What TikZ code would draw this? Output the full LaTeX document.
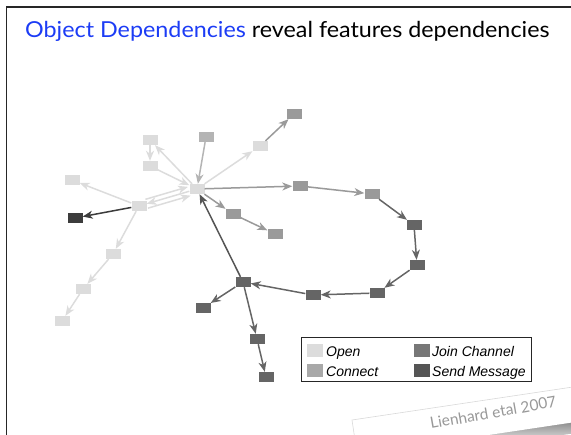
\documentclass[tikz,border=0pt]{standalone}
\usepackage{fontspec}
\setmainfont{Lato}
\newfontfamily\legendfont{Liberation Sans}
\usetikzlibrary{arrows.meta,fadings}

\definecolor{titleblue}{RGB}{28,60,245}
\definecolor{openc}{HTML}{DCDCDC}
\definecolor{connc}{HTML}{9A9A9A}
\definecolor{connlight}{HTML}{B4B4B4}
\definecolor{joinc}{HTML}{656565}
\definecolor{sendc}{HTML}{3C3C3C}
\definecolor{legjoin}{HTML}{777777}
\definecolor{legsend}{HTML}{555555}
\definecolor{legconn}{HTML}{A8A8A8}

\tikzfading[name=shadowfade, top color=transparent!20, bottom color=transparent!100]

\tikzset{
  obj/.style={minimum width=15pt, minimum height=10pt, inner sep=0pt, draw=none, fill=#1},
  dep/.style={draw=#1, line width=1.5pt, -{Stealth[length=10pt,width=8pt,inset=3pt]}},
  swatch/.style={minimum width=16pt, minimum height=13pt, inner sep=0pt, fill=#1},
  legtext/.style={anchor=base west, inner sep=0pt, font=\legendfont\itshape\fontsize{14}{16}\selectfont}
}

\begin{document}
\begin{tikzpicture}[x=1pt,y=-1pt]
\useasboundingbox (0,0) rectangle (571,435);
\clip (0,0) rectangle (571,435);

% slide frame
\draw[line width=1.6pt, black!85] (6.5,436) -- (6.5,7.2) -- (572,7.2);

% heading
\node[anchor=base west, inner sep=0pt, xscale=1.06, font=\fontsize{22}{24}\selectfont] (heading) at (25,38)
  {\textcolor{titleblue}{Object Dependencies} reveal features dependencies};

% objects
\node[obj=openc]     (A) at (150,140) {};
\node[obj=openc]     (B) at (150,166) {};
\node[obj=connlight] (C) at (206,137) {};
\node[obj=openc]     (H) at (197,189) {};
\node[obj=openc]     (D) at (72,180) {};
\node[obj=openc]     (E) at (139,206) {};
\node[obj=sendc]     (F) at (75,218) {};
\node[obj=connc]     (G) at (233,214) {};
\node[obj=connc]     (I) at (294,114) {};
\node[obj=openc]     (J) at (260,146) {};
\node[obj=connc]     (K) at (300,186) {};
\node[obj=connc]     (L) at (372,194) {};
\node[obj=joinc]     (M) at (414,225) {};
\node[obj=connc]     (N) at (275,234) {};
\node[obj=joinc]     (O) at (417,265) {};
\node[obj=joinc]     (P) at (377,293) {};
\node[obj=joinc]     (Q) at (313,295) {};
\node[obj=joinc]     (R) at (243,282) {};
\node[obj=joinc]     (S) at (203,308) {};
\node[obj=joinc]     (T) at (257,339) {};
\node[obj=joinc]     (U) at (266,377) {};
\node[obj=openc]     (V) at (113,254) {};
\node[obj=openc]     (W) at (83,289) {};
\node[obj=openc]     (X) at (62,321) {};

% dependencies
\draw[dep=openc] (A) -- (B);
\draw[dep=openc] (H) -- (A);
\draw[dep=openc] (B) -- (H);
\draw[dep=connlight] (C) -- (H);
\draw[dep=openc] (H) -- (J);
\draw[dep=connc] (J) -- (I);
\draw[dep=connc] (H) -- (K);
\draw[dep=connc] (K) -- (L);
\draw[dep=joinc] (L) -- (M);
\draw[dep=joinc] (M) -- (O);
\draw[dep=joinc] (O) -- (P);
\draw[dep=joinc] (P) -- (Q);
\draw[dep=joinc] (Q) -- (R);
\draw[dep=legsend] (R) -- (H);
\draw[dep=joinc] (R) -- (S);
\draw[dep=joinc] (R) -- (T);
\draw[dep=joinc] (T) -- (U);
\draw[dep=connc] (H) -- (G);
\draw[dep=connc] (G) -- (N);
\draw[dep=openc] (E) -- (D);
\draw[dep=sendc] (E) -- (F);
\draw[dep=openc, transform canvas={shift={(-1.3,-4.4)}}] (E) -- (H);
\draw[dep=openc] (H) -- (E);
\draw[dep=openc, transform canvas={shift={(1.3,4.4)}}] (E) -- (H);
\draw[dep=openc] (E) -- (V);
\draw[dep=openc] (V) -- (W);
\draw[dep=openc] (W) -- (X);

% legend
\draw[line width=0.8pt, black!85] (301,337) rectangle (531,381);
\node[swatch=openc]   (swopen) at (315,350.5) {};
\node[swatch=legconn] (swconn) at (315,370.5) {};
\node[swatch=legjoin] (swjoin) at (422,350.5) {};
\node[swatch=legsend] (swsend) at (422,370.5) {};
\node[legtext] (lopen) at (326,356.5) {Open};
\node[legtext] (lconn) at (326,376.5) {Connect};
\node[legtext] (ljoin) at (432,356.5) {Join Channel};
\node[legtext] (lsend) at (432,376.5) {Send Message};

% citation note on a tilted paper strip
\begin{scope}[shift={(352,420)}, rotate=8.5]
  \fill[black, path fading=shadowfade] (120,32) rectangle (340,46);
  \fill[white] (0,0) rectangle (340,35);
  \draw[black!15, line width=0.6pt] (0,40) -- (0,0) -- (340,0);
\end{scope}
\node[anchor=base west, inner sep=0pt, rotate=10, text=black!40,
      font=\fontsize{15.5}{17}\selectfont] (cite) at (431,429) {Lienhard etal 2007};
\end{tikzpicture}
\end{document}
